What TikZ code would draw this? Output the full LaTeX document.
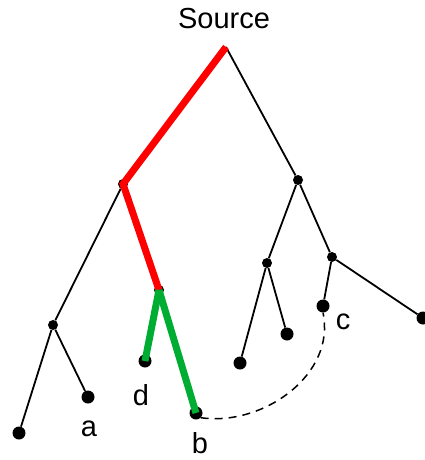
\documentclass[tikz,border=0pt]{standalone}
\usepackage{fontspec}
\setmainfont{Liberation Sans}
\usetikzlibrary{positioning}
\tikzset{
    dot/.style={circle, fill=black, inner sep=0pt, minimum size=13pt},
    smalldot/.style={circle, fill=black, inner sep=0pt, minimum size=10pt},
    branch/.style={draw, line width=1.8pt},
    redpath/.style={draw, red, line width=7pt},
    greenpath/.style={draw, green!60!black!80!cyan, line width=7pt},
    leaflabel/.style={font=\fontsize{29}{32}\selectfont, inner sep=0pt}
}

\begin{document}
\begin{tikzpicture}[x=1pt, y=-1pt]
    \useasboundingbox (0,0) rectangle (425,460);
    % Nodes
    \coordinate (src) at (226,47);
    \node[leaflabel] (srclabel) at (224,19) {Source};
    \node[smalldot] (l1) at (123,184) {};
    \node[smalldot] (r1) at (298,180) {};
    \node[smalldot] (l2) at (53,325) {};
    \node[smalldot] (m2) at (159,290) {};
    \node[smalldot] (r2) at (267,263) {};
    \node[smalldot] (r3) at (332,257) {};
    \node[dot] (ll) at (19,433) {};
    \node[dot] (a) at (88,397) {};
    \node[dot] (d) at (145,361) {};
    \node[dot] (b) at (196,413) {};
    \node[dot] (rl) at (240,363) {};
    \node[dot] (rr) at (287,334) {};
    \node[dot] (c) at (323,306) {};
    \node[dot] (far) at (423,318) {};

    % labels
    \node[leaflabel] (alabel) at (89,429) {a};
    \node[leaflabel] (dlabel) at (141,395) {d};
    \node[leaflabel] (blabel) at (200,443) {b};
    \node[leaflabel] (clabel) at (343,322) {c};

    % edges
    \draw[branch] (src) -- (r1);
    \draw[branch] (l1) -- (l2);
    \draw[branch] (l2) -- (ll);
    \draw[branch] (l2) -- (a);
    \draw[branch] (r1) -- (r2);
    \draw[branch] (r1) -- (r3);
    \draw[branch] (r2) -- (rl);
    \draw[branch] (r2) -- (rr);
    \draw[branch] (r3) -- (c);
    \draw[branch] (r3) -- (far);
    \draw[redpath] (src.center) -- (l1.center) -- (m2.center);
    \draw[greenpath] (m2.center) -- (d.center);
    \draw[greenpath] (m2.center) -- (b.center);
    \draw[branch, line width=1.5pt, dash pattern=on 8pt off 6pt] (b.south east) to[out=-8, in=-78] (c.south);
\end{tikzpicture}
\end{document}
